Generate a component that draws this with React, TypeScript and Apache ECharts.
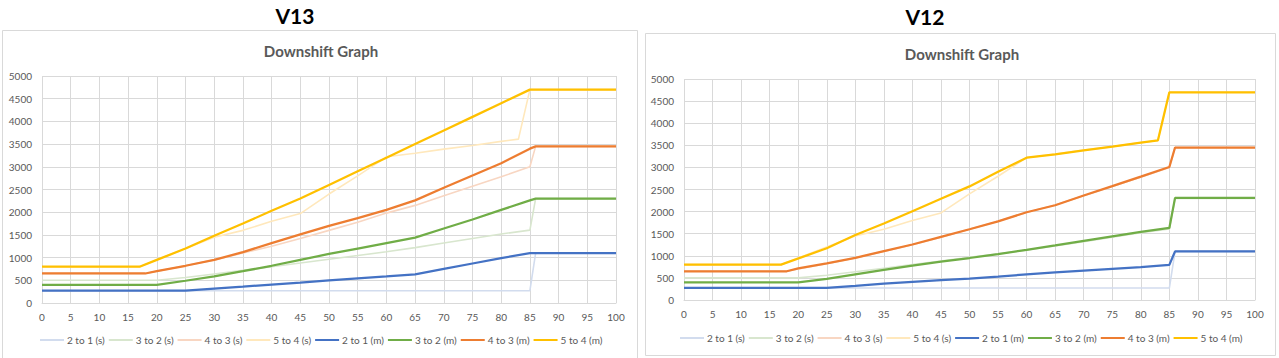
import React, { useEffect, useRef } from "react";
import * as echarts from "echarts";

type Pt = [number, number];

// ---- legend / series names and colours ----
const seriesNames = [
  "2 to 1 (s)", "3 to 2 (s)", "4 to 3 (s)", "5 to 4 (s)",
  "2 to 1 (m)", "3 to 2 (m)", "4 to 3 (m)", "5 to 4 (m)",
];
const seriesColors = [
  "#D2DCEE", "#D8E6CE", "#F8D6C2", "#FFE8BC",
  "#4472C4", "#70AD47", "#ED7D31", "#FFC000",
];
const chartTitles = ["V13", "V12"];
const subTitle = "Downshift Graph";

// ---- shared (s) series ----
const s21: Pt[] = [[0, 270], [85, 270], [86, 1100], [100, 1100]];
const s32: Pt[] = [[0, 500], [20, 500], [25, 560], [30, 640], [35, 720], [40, 800], [45, 880], [50, 965], [55, 1045], [60, 1130], [65, 1220], [70, 1320], [75, 1420], [80, 1520], [85, 1605], [86, 2300], [100, 2300]];
const s43: Pt[] = [[0, 650], [18, 650], [20, 700], [25, 820], [30, 950], [35, 1100], [40, 1250], [45, 1420], [50, 1600], [55, 1780], [60, 1980], [65, 2150], [70, 2360], [75, 2570], [80, 2780], [85, 3000], [86, 3450], [100, 3450]];
const s54: Pt[] = [[0, 800], [17, 800], [20, 950], [25, 1200], [30, 1450], [35, 1600], [40, 1800], [45, 1970], [50, 2400], [55, 2800], [60, 3220], [65, 3300], [70, 3390], [75, 3470], [80, 3560], [83, 3610], [85, 4700], [100, 4700]];

// ---- V13 (m) series ----
const v13m21: Pt[] = [[0, 270], [25, 270], [30, 316], [35, 360], [40, 405], [45, 450], [50, 500], [55, 545], [60, 585], [65, 630], [70, 750], [75, 870], [80, 990], [85, 1100], [100, 1100]];
const v13m32: Pt[] = [[0, 400], [20, 400], [25, 490], [30, 585], [35, 700], [40, 820], [45, 950], [50, 1080], [55, 1200], [60, 1320], [65, 1440], [70, 1640], [75, 1840], [80, 2050], [85, 2260], [86, 2300], [100, 2300]];
const v13m43: Pt[] = [[0, 650], [18, 650], [20, 700], [25, 820], [30, 950], [35, 1120], [40, 1320], [45, 1510], [50, 1700], [55, 1870], [60, 2050], [65, 2260], [70, 2540], [75, 2810], [80, 3080], [85, 3400], [86, 3450], [100, 3450]];
const v13m54: Pt[] = [[0, 800], [17, 800], [20, 950], [25, 1200], [30, 1480], [35, 1750], [40, 2030], [45, 2300], [50, 2600], [55, 2900], [60, 3200], [65, 3500], [70, 3800], [75, 4100], [80, 4400], [85, 4700], [100, 4700]];

// ---- V12 (m) series ----
const v12m21: Pt[] = [[0, 275], [25, 275], [30, 320], [35, 370], [40, 410], [45, 450], [50, 485], [55, 530], [60, 580], [65, 625], [70, 665], [75, 705], [80, 745], [85, 795], [86, 1100], [100, 1100]];
const v12m32: Pt[] = [[0, 400], [20, 400], [25, 480], [30, 580], [35, 680], [40, 780], [45, 870], [50, 950], [55, 1040], [60, 1136], [65, 1235], [70, 1340], [75, 1440], [80, 1540], [85, 1630], [86, 2310], [100, 2310]];
const v12m43: Pt[] = [[0, 650], [18, 650], [20, 715], [25, 830], [30, 955], [35, 1105], [40, 1256], [45, 1430], [50, 1600], [55, 1780], [60, 1985], [65, 2144], [70, 2364], [75, 2576], [80, 2790], [85, 3008], [86, 3450], [100, 3450]];
const v12m54: Pt[] = [[0, 800], [17, 800], [25, 1170], [30, 1470], [35, 1730], [40, 2010], [45, 2290], [50, 2570], [55, 2900], [60, 3220], [65, 3295], [70, 3386], [75, 3470], [80, 3560], [83, 3614], [85, 4700], [100, 4700]];

const chartData: Pt[][][] = [
  [s21, s32, s43, s54, v13m21, v13m32, v13m43, v13m54],
  [s21, s32, s43, s54, v12m21, v12m32, v12m43, v12m54],
];

const FONT = "Lato, 'Open Sans', sans-serif";
const GRID_COLOR = "#D9D9D9";
const TEXT_COLOR = "#595959";

export default function App() {
  const ref = useRef<HTMLDivElement>(null);

  useEffect(() => {
    document.body.style.margin = "0";
    if (!ref.current) return;
    const chart = echarts.init(ref.current, undefined, { renderer: "svg" });

    const grids = [
      { left: 42, top: 76, width: 574, height: 227 },
      { left: 684, top: 79, width: 571, height: 221 },
    ];
    const titleX = [295, 925];
    const subTitleX = [321, 962];
    const titleTop = [5, 6];
    const subTop = [43, 46];
    const legendLeft = [40, 680];
    const legendTop = [335, 333];

    const xAxis = grids.map((_, i) => ({
      type: "value" as const,
      gridIndex: i,
      min: 0,
      max: 100,
      interval: 5,
      axisLine: { show: true, lineStyle: { color: GRID_COLOR } },
      axisTick: { show: false },
      axisLabel: { color: TEXT_COLOR, fontSize: 10, fontFamily: FONT, margin: 9 },
      splitLine: { show: true, lineStyle: { color: GRID_COLOR } },
    }));
    const yAxis = grids.map((_, i) => ({
      type: "value" as const,
      gridIndex: i,
      min: 0,
      max: 5000,
      interval: 500,
      axisLine: { show: false },
      axisTick: { show: false },
      axisLabel: {
        color: TEXT_COLOR,
        fontSize: 10,
        fontFamily: FONT,
        margin: 10,
        formatter: (v: number) => String(v),
      },
      splitLine: { show: true, lineStyle: { color: GRID_COLOR } },
    }));

    const series: any[] = [];
    chartData.forEach((list, ci) => {
      list.forEach((data, si) => {
        const main = si >= 4;
        series.push({
          type: "line",
          name: seriesNames[si],
          xAxisIndex: ci,
          yAxisIndex: ci,
          data,
          symbol: "none",
          color: seriesColors[si],
          lineStyle: { width: main ? 2.25 : 1.6, color: seriesColors[si] },
          z: main ? 3 : 2,
        });
      });
    });

    const titles: any[] = [];
    chartTitles.forEach((t, i) => {
      titles.push({
        text: t,
        left: titleX[i],
        top: titleTop[i],
        textAlign: "center",
        padding: 0,
        textStyle: { fontSize: 21, fontWeight: "bold", color: "#000000", fontFamily: FONT },
      });
      titles.push({
        text: subTitle,
        left: subTitleX[i],
        top: subTop[i],
        textAlign: "center",
        padding: 0,
        textStyle: { fontSize: 15, fontWeight: "bold", color: TEXT_COLOR, fontFamily: FONT },
      });
    });

    const legends = legendLeft.map((l, i) => ({
      data: seriesNames.map((n, si) => ({
        name: n,
        icon: "rect",
        itemStyle: { color: seriesColors[si] },
      })),
      left: l,
      top: legendTop[i],
      padding: 0,
      icon: "rect",
      itemWidth: 24,
      itemHeight: 2,
      itemGap: 4,
      selectedMode: false,
      textStyle: { fontSize: 10, color: TEXT_COLOR, fontFamily: FONT, padding: [0, 0, 0, -2] },
    }));

    chart.setOption({
      animation: false,
      backgroundColor: "#FFFFFF",
      title: titles,
      legend: legends,
      grid: grids,
      xAxis,
      yAxis,
      series,
      graphic: [
        { type: "rect", shape: { x: 2.5, y: 30.5, width: 635, height: 340 }, style: { fill: "none", stroke: "#D9D9D9", lineWidth: 1 }, silent: true },
        { type: "rect", shape: { x: 645.5, y: 33.5, width: 630, height: 322 }, style: { fill: "none", stroke: "#D9D9D9", lineWidth: 1 }, silent: true },
      ],
    });

    return () => chart.dispose();
  }, []);

  return <div ref={ref} style={{ width: 1279, height: 358 }} />;
}
